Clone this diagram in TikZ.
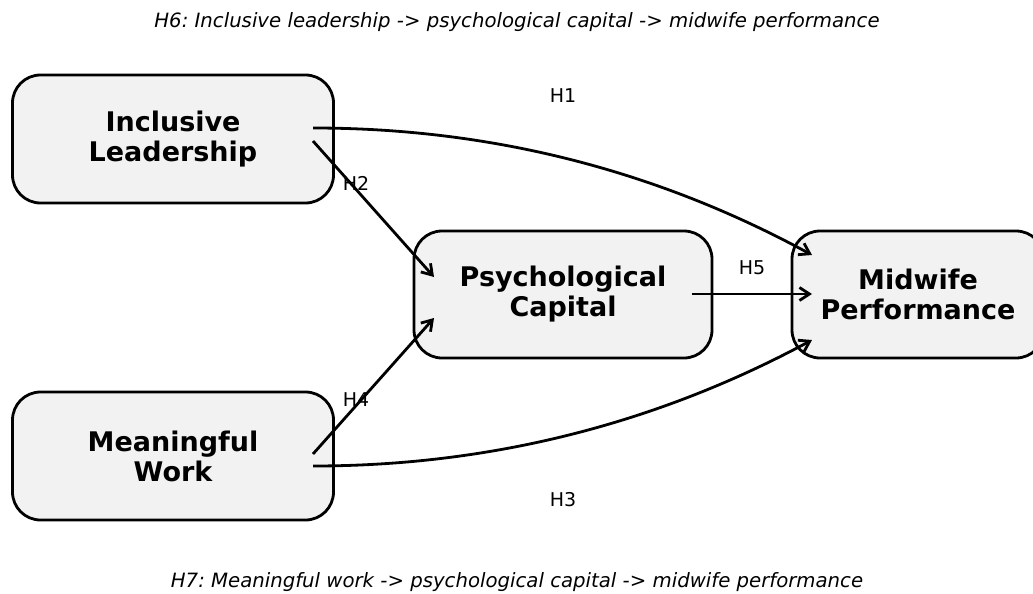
\documentclass[tikz,border=0pt]{standalone}
\usepackage{fontspec}
\setmainfont{DejaVu Sans}
\usepackage{xcolor}
\usetikzlibrary{arrows.meta}
\frenchspacing

\begin{document}
\begin{tikzpicture}[x=1pt, y=-1pt, line width=2.8pt, >={Straight Barb[length=10pt,width=13pt]},
    box/.style={draw, fill=black!5, rounded corners=28pt, align=center,
                font=\fontsize{27}{30}\selectfont\bfseries, inner sep=0pt},
    hyp/.style={font=\fontsize{19}{23}\selectfont},
    note/.style={font=\fontsize{19.7}{24}\selectfont\itshape}]
    \useasboundingbox (0,0) rectangle (1033,594);
    \clip (0,0) rectangle (1033,594);

    % constructs
    \node[box, minimum width=321pt, minimum height=128pt] (il) at (173,139) {Inclusive\\Leadership};
    \node[box, minimum width=321pt, minimum height=128pt] (mw) at (173,456) {Meaningful\\Work};
    \node[box, minimum width=298pt, minimum height=127pt] (pc) at (563,294.5) {Psychological\\Capital};
    \node[box, minimum width=252pt, minimum height=127pt] (mp) at (918,294.5) {Midwife\\Performance};

    % arrow ends
    \coordinate (il-a) at (313,128);
    \coordinate (il-b) at (313,141);
    \coordinate (mw-a) at (313,454);
    \coordinate (mw-b) at (313,466);
    \coordinate (pc-in1) at (434,277);
    \coordinate (pc-in2) at (434,318);
    \coordinate (pc-out) at (692,294);
    \coordinate (mp-in1) at (812,255);
    \coordinate (mp-in2) at (812,294);
    \coordinate (mp-in3) at (812,340);

    % paths
    \draw[->] (il-a) .. controls +(177,0) and +(-156,-85) .. (mp-in1);
    \draw[->] (il-b) -- (pc-in1);
    \draw[->] (mw-a) -- (pc-in2);
    \draw[->] (mw-b) .. controls +(177,0) and +(-156,84) .. (mp-in3);
    \draw[->] (pc-out) -- (mp-in2);

    \node[hyp] (h1) at (563,96) {H1};
    \node[hyp] (h2) at (356,183) {H2};
    \node[hyp] (h3) at (563,500) {H3};
    \node[hyp] (h4) at (356,400) {H4};
    \node[hyp] (h5) at (752,268) {H5};

    \node[note] (h6) at (517,22) {H6: Inclusive leadership -> psychological capital -> midwife performance};
    \node[note] (h7) at (517,582) {H7: Meaningful work -> psychological capital -> midwife performance};
\end{tikzpicture}
\end{document}
